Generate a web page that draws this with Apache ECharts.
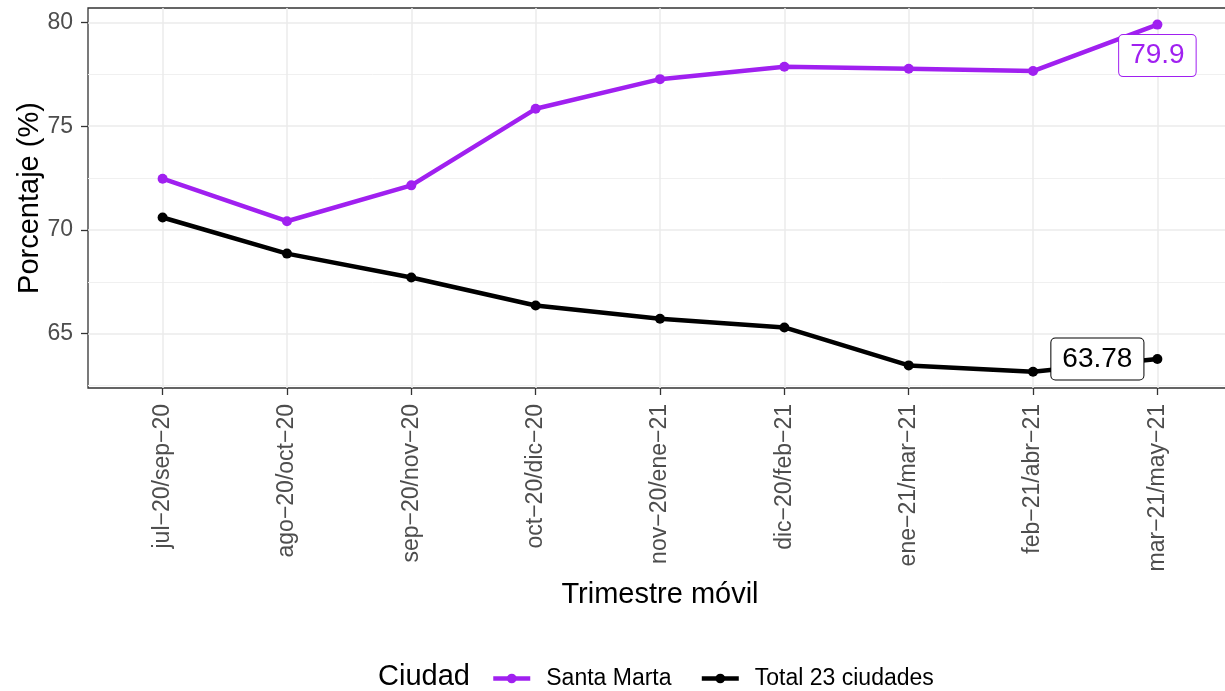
<!DOCTYPE html>
<html lang="es">
<head>
    <meta charset="UTF-8">
    <title>Porcentaje por trimestre móvil</title>
    <script src="https://cdn.jsdelivr.net/npm/echarts@6/dist/echarts.min.js"></script>
    <style>
        html, body { margin: 0; padding: 0; background: #fff; }
        #main { width: 1225px; height: 691px; }
    </style>
</head>
<body>
<div id="main"></div>
<script>
    // datos
    var trimestres = ['jul−20/sep−20', 'ago−20/oct−20', 'sep−20/nov−20', 'oct−20/dic−20', 'nov−20/ene−21',
        'dic−20/feb−21', 'ene−21/mar−21', 'feb−21/abr−21', 'mar−21/may−21'];
    var santaMarta = [72.47, 70.42, 72.15, 75.84, 77.27, 77.87, 77.77, 77.66, 79.9];
    var total23 = [70.6, 68.86, 67.71, 66.36, 65.72, 65.30, 63.47, 63.16, 63.78];
    var yMajor = [65, 70, 75, 80];
    var yMinor = [62.5, 67.5, 72.5, 77.5];
    var xIdx = trimestres.map(function (t, i) { return i; });

    var FONT = 'Liberation Sans, Arial, sans-serif';
    var PURPLE = '#A020F0';

    // solo el ultimo punto lleva etiqueta
    function buildData(vals, labelOpt) {
        return vals.map(function (v, i) {
            if (i === vals.length - 1) {
                return { value: [i, v], label: labelOpt };
            }
            return [i, v];
        });
    }

    function boxLabel(color, offset) {
        return {
            show: true,
            position: 'inside',
            offset: offset,
            formatter: function (p) { return String(p.value[1]); },
            fontFamily: FONT,
            fontSize: 28,
            color: color,
            backgroundColor: '#fff',
            borderColor: color,
            borderWidth: 1,
            borderRadius: 4,
            padding: [7, 11, 6, 11]
        };
    }

    var myChart = echarts.init(document.getElementById('main'));

    var option = {
        animation: false,
        backgroundColor: '#fff',
        title: {
            text: 'Ciudad',
            left: 378,
            top: 662,
            padding: 0,
            textStyle: { fontFamily: FONT, fontSize: 29, fontWeight: 'normal', color: '#000' }
        },
        legend: {
            left: 491,
            top: 667,
            itemWidth: 37,
            itemHeight: 12,
            itemGap: 28,
            padding: 0,
            lineStyle: { width: 4.5 },
            textStyle: { fontFamily: FONT, fontSize: 23, color: '#000', padding: [0, 0, 0, 11] },
            data: ['Santa Marta', 'Total 23 ciudades']
        },
        grid: {
            left: 88,
            top: 8,
            width: 1144,
            height: 380,
            show: true,
            borderColor: '#333',
            borderWidth: 1.3,
            containLabel: false,
            outerBoundsMode: 'none'
        },
        xAxis: {
            type: 'value',
            min: -0.6,
            max: 8.6,
            name: 'Trimestre móvil',
            nameLocation: 'middle',
            nameGap: 192,
            nameMoveOverlap: false,
            nameTextStyle: { fontFamily: FONT, fontSize: 29, color: '#000' },
            axisLine: { show: false, onZero: false },
            axisTick: { show: true, length: 7, customValues: xIdx, lineStyle: { color: '#333', width: 1.3 } },
            axisLabel: {
                customValues: xIdx,
                rotate: 90,
                margin: 16,
                fontFamily: FONT,
                fontSize: 23,
                color: '#4D4D4D',
                formatter: function (v) { return trimestres[Math.round(v)]; }
            },
            splitLine: { show: true, lineStyle: { color: '#EBEBEB', width: 1.5 } }
        },
        yAxis: [{
            type: 'value',
            min: 62.38,
            max: 80.7,
            name: 'Porcentaje (%)',
            nameLocation: 'middle',
            nameRotate: 90,
            nameGap: 44,
            nameMoveOverlap: false,
            nameTextStyle: { fontFamily: FONT, fontSize: 29, color: '#000' },
            axisLine: { show: false, onZero: false },
            axisTick: { show: true, length: 7, customValues: yMajor, lineStyle: { color: '#333', width: 1.3 } },
            axisLabel: { customValues: yMajor, margin: 15, fontFamily: FONT, fontSize: 23, color: '#4D4D4D' },
            splitLine: { show: true, lineStyle: { color: '#EBEBEB', width: 1.5 } }
        }, {
            // lineas menores de la cuadricula
            type: 'value',
            min: 62.38,
            max: 80.7,
            position: 'left',
            axisLine: { show: false, onZero: false },
            axisTick: { show: false, customValues: yMinor },
            axisLabel: { show: false, customValues: yMinor },
            splitLine: { show: true, lineStyle: { color: '#F0F0F0', width: 1 } }
        }],
        series: [{
            name: 'Santa Marta',
            type: 'line',
            data: buildData(santaMarta, boxLabel(PURPLE, [0, 31])),
            symbol: 'circle',
            symbolSize: 10,
            lineStyle: { color: PURPLE, width: 4.5 },
            itemStyle: { color: PURPLE },
            z: 3
        }, {
            name: 'Total 23 ciudades',
            type: 'line',
            data: buildData(total23, boxLabel('#000', [-60, 0])),
            symbol: 'circle',
            symbolSize: 10,
            lineStyle: { color: '#000', width: 4.5 },
            itemStyle: { color: '#000' },
            z: 3
        }]
    };

    myChart.setOption(option);
</script>
</body>
</html>
